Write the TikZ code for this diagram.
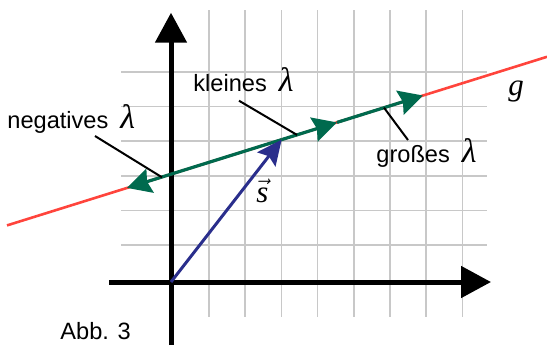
\documentclass[tikz,border=0pt]{standalone}
\usepackage{fontspec}
\setmainfont{Liberation Sans}
\newfontfamily\timesf{Liberation Serif}
\usetikzlibrary{arrows.meta}
\definecolor{gred}{RGB}{255,68,60}
\definecolor{ggreen}{RGB}{0,106,78}
\definecolor{sblue}{RGB}{42,46,140}
\definecolor{gridgray}{RGB}{200,200,200}
\newcommand\lamsym{{\fontsize{17}{18}\timesf\itshape λ}}
\tikzset{
  gridline/.style={draw=gridgray, line width=0.75pt},
  axis/.style={line width=2.5pt, -{Triangle[length=15pt,width=15.5pt]}},
  gline/.style={draw=gred, line width=1.3pt},
  lamvec/.style={draw=ggreen, line width=1.6pt, -{Stealth[length=12pt,width=12.5pt,inset=1.5pt]}},
  svec/.style={draw=sblue, line width=1.5pt, -{Stealth[length=12.5pt,width=11.5pt,inset=2pt]}},
  leader/.style={draw=black, line width=1pt},
  lbl/.style={inner sep=0pt, anchor=base west, font=\fontsize{11.8}{13}\selectfont},
  mathlbl/.style={inner sep=0pt, anchor=base west, font=\fontsize{15.5}{17}\selectfont\timesf\itshape}
}
\begin{document}
\begin{tikzpicture}[x=0.5pt,y=-0.5pt]
\useasboundingbox (0,0) rectangle (547,345);
% grid
\foreach \i in {0,...,7} \draw[gridline] ({209+36.2*\i},10) -- ({209+36.2*\i},317);
\foreach \j in {0,...,5} \draw[gridline] (121,{72+34.6*\j}) -- (487,{72+34.6*\j});
% axes
\coordinate (O) at (171,282);
\coordinate (ybot) at (171,345);
\coordinate (ytop) at (171,12.7);
\coordinate (xleft) at (109,282);
\coordinate (xright) at (491,282);
\draw[axis] (ybot) -- (ytop);
\draw[axis] (xleft) -- (xright);
% line g
\coordinate (gL) at (7,225.4);
\coordinate (gR) at (547,56.8);
\draw[gline] (gL) -- (gR);
% points on g
\coordinate (L) at (127,187.9);
\coordinate (P) at (281.7,139.6);
\coordinate (M) at (337,122.4);
\coordinate (R) at (423,95.5);
\draw[lamvec] (P) -- (L);
\draw[lamvec] (P) -- (M);
\draw[lamvec] (M) -- (R);
% vector s
\draw[svec] (O) -- (P);
% leaders
\coordinate (nA) at (95,136);
\coordinate (nB) at (162,177.3);
\coordinate (kA) at (239,100.7);
\coordinate (kB) at (297,134.9);
\coordinate (gA) at (384,107.7);
\coordinate (gB) at (408,140);
\draw[leader] (nA) -- (nB);
\draw[leader] (kA) -- (kB);
\draw[leader] (gA) -- (gB);
% labels
\node[lbl] (neg) at (7,128) {negatives\hspace{6pt}\lamsym};
\node[lbl] (kl) at (193,91.7) {kleines\hspace{6pt}\lamsym};
\node[lbl] (gr) at (376,162) {großes\hspace{6pt}\lamsym};
\node[mathlbl] (glbl) at (508,95) {g};
\node[mathlbl] (slbl) at (256,202) {$\vec{\mbox{\timesf\itshape s}}$};
\node[lbl] (abb) at (60,339) {Abb. 3};
\end{tikzpicture}
\end{document}
